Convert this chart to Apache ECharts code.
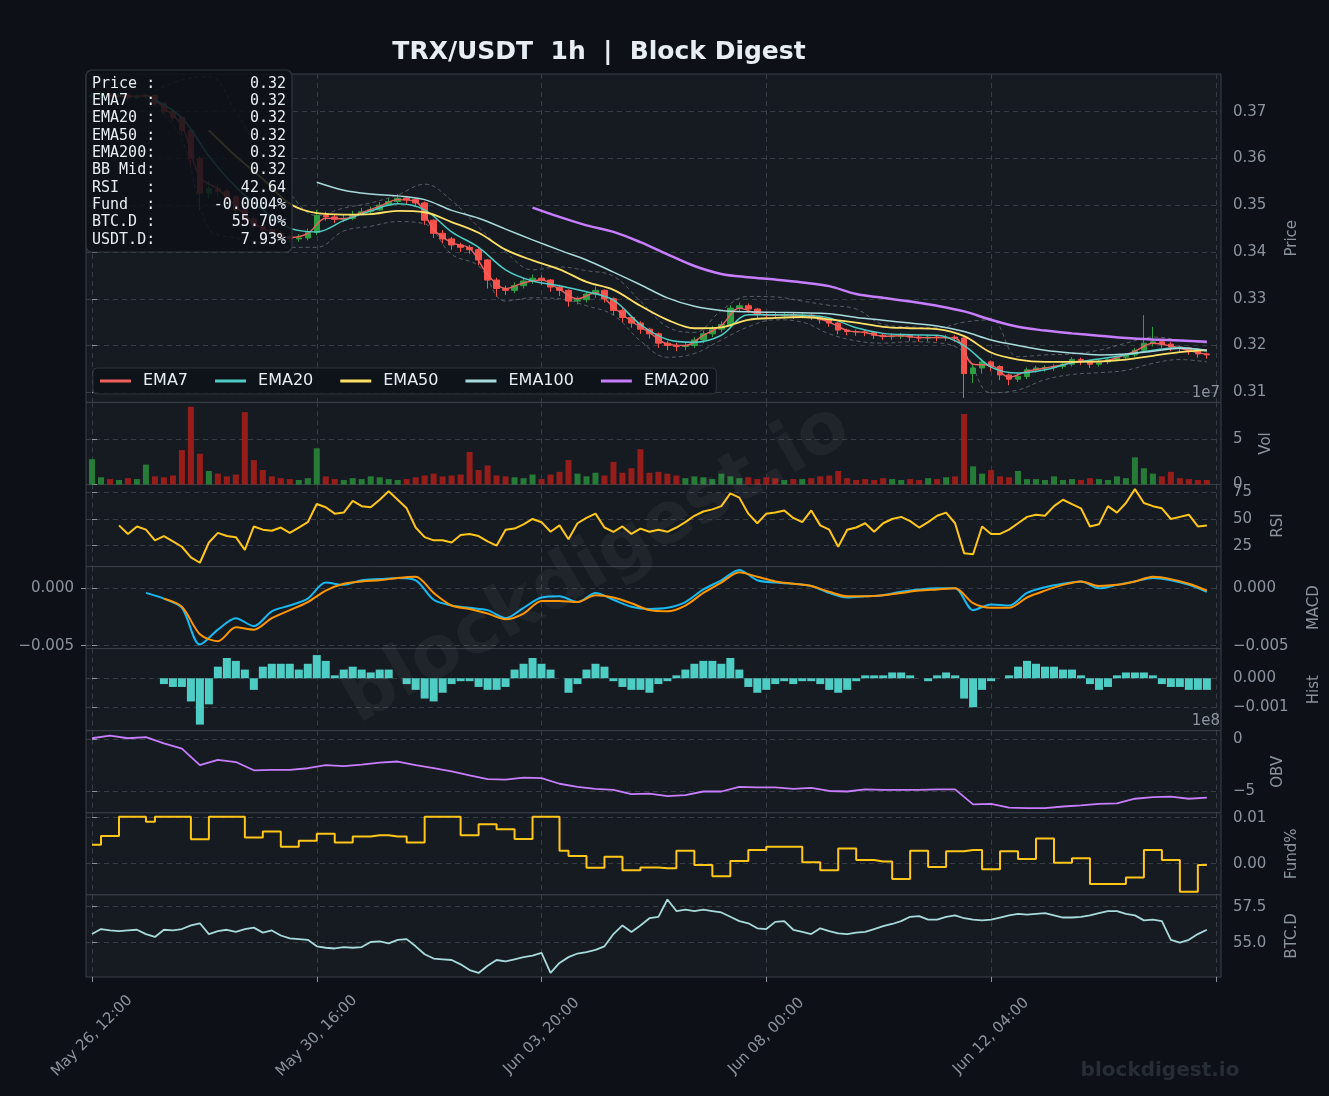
<!DOCTYPE html>
<html>
<head>
<meta charset="utf-8">
<title>TRX/USDT 1h | Block Digest</title>
<script src="https://cdn.jsdelivr.net/npm/echarts@6/dist/echarts.min.js"></script>
<style>
html, body { margin: 0; padding: 0; background: #0d1117; }
#chart { width: 1329px; height: 1096px; }
</style>
</head>
<body>
<div id="chart"></div>
<script>
// x = hours since May 26 12:00, candles sampled every 4h
const timeTickHours = [0, 100, 200, 300, 400, 500];
const timeTickLabels = ['May 26, 12:00', 'May 30, 16:00', 'Jun 03, 20:00', 'Jun 08, 00:00', 'Jun 12, 04:00', ''];

const firstOpen = 0.3732;
const closes = [
  .3735,.3738,.3733,.3736,.3730,.3733,.3735,.3718,.3700,.3688,
  .3660,.3600,.3526,.3535,.3530,.3518,.3490,.3470,.3455,.3448,
  .3440,.3432,.3428,.3430,.3442,.3478,.3475,.3470,.3472,.3480,
  .3486,.3490,.3500,.3508,.3515,.3512,.3505,.3468,.3440,.3428,
  .3415,.3410,.3405,.3383,.3340,.3322,.3318,.3328,.3338,.3344,
  .3340,.3325,.3318,.3295,.3298,.3310,.3318,.3300,.3275,.3260,
  .3248,.3235,.3225,.3205,.3200,.3198,.3200,.3212,.3225,.3235,
  .3245,.3280,.3285,.3278,.3266,.3265,.3264,.3266,.3264,.3265,
  .3262,.3255,.3248,.3233,.3230,.3229,.3228,.3222,.3219,.3220,
  .3222,.3218,.3216,.3218,.3217,.3218,.3216,.3140,.3152,.3165,
  .3155,.3137,.3128,.3134,.3148,.3152,.3153,.3155,.3160,.3170,
  .3168,.3160,.3165,.3170,.3175,.3180,.3190,.3205,.3208,.3203,
  .3197,.3195,.3188,.3182,.3180
];
const highs = [
  .3742,.3743,.3740,.3741,.3738,.3737,.3740,.3737,.3720,.3705,
  .3690,.3662,.3605,.3552,.3545,.3535,.3522,.3495,.3475,.3462,
  .3452,.3445,.3438,.3438,.3450,.3490,.3486,.3480,.3480,.3488,
  .3494,.3497,.3507,.3515,.3524,.3520,.3515,.3508,.3470,.3447,
  .3432,.3420,.3415,.3410,.3385,.3345,.3328,.3335,.3345,.3352,
  .3350,.3342,.3330,.3320,.3305,.3316,.3326,.3320,.3303,.3280,
  .3263,.3252,.3238,.3228,.3210,.3206,.3207,.3218,.3232,.3242,
  .3252,.3286,.3292,.3290,.3280,.3272,.3270,.3271,.3270,.3270,
  .3268,.3264,.3257,.3250,.3236,.3234,.3233,.3230,.3225,.3226,
  .3227,.3225,.3222,.3223,.3222,.3223,.3222,.3218,.3160,.3172,
  .3168,.3158,.3140,.3140,.3153,.3157,.3158,.3160,.3165,.3175,
  .3174,.3170,.3170,.3174,.3179,.3184,.3195,.3265,.3240,.3212,
  .3207,.3200,.3197,.3190,.3185
];
const lows = [
  .3728,.3730,.3727,.3729,.3724,.3726,.3729,.3712,.3694,.3680,
  .3650,.3585,.3490,.3515,.3520,.3505,.3480,.3460,.3446,.3440,
  .3432,.3425,.3420,.3422,.3425,.3436,.3467,.3462,.3464,.3468,
  .3478,.3482,.3488,.3498,.3502,.3503,.3497,.3458,.3430,.3418,
  .3405,.3400,.3396,.3372,.3322,.3305,.3308,.3312,.3322,.3332,
  .3330,.3315,.3306,.3283,.3288,.3292,.3302,.3292,.3265,.3250,
  .3238,.3225,.3215,.3195,.3190,.3188,.3190,.3195,.3205,.3218,
  .3228,.3238,.3272,.3270,.3258,.3258,.3257,.3258,.3257,.3258,
  .3255,.3247,.3240,.3224,.3222,.3221,.3220,.3214,.3212,.3212,
  .3214,.3210,.3208,.3209,.3209,.3210,.3208,.3088,.3120,.3140,
  .3145,.3126,.3115,.3122,.3128,.3142,.3144,.3146,.3150,.3155,
  .3158,.3152,.3155,.3160,.3166,.3170,.3175,.3185,.3198,.3195,
  .3188,.3186,.3180,.3174,.3172
];
// volume, units of 1e7
const volume = [
  2.8,0.8,0.6,0.5,0.7,0.6,2.2,0.9,0.8,1.0,
  3.8,8.6,3.4,1.5,1.2,0.9,1.1,8.0,2.7,1.6,
  0.9,0.7,0.6,0.5,0.7,4.0,0.9,0.6,0.5,0.7,
  0.6,0.9,0.8,0.6,0.5,0.6,0.8,1.0,1.2,0.9,
  1.0,1.1,3.6,1.6,2.1,1.0,0.9,0.8,0.7,1.1,
  0.6,1.1,1.4,2.7,1.2,0.9,1.3,1.0,2.5,1.3,
  1.8,3.9,1.3,1.4,1.2,1.0,0.7,0.9,0.8,0.6,
  1.2,0.9,0.7,0.8,0.6,0.8,0.7,0.5,0.6,0.6,
  0.7,0.9,1.0,1.5,0.7,0.5,0.6,0.5,0.7,0.6,
  0.5,0.6,0.5,0.7,0.6,0.8,0.9,7.8,2.0,1.2,
  1.6,0.9,0.8,1.5,0.6,0.6,0.5,0.9,0.5,0.6,
  0.5,0.7,0.6,0.5,0.9,0.7,3.0,1.8,1.2,0.9,
  1.4,0.7,0.6,0.5,0.5
];

// moving averages / bands: [start hour, step hours]
const ema7 = [
  .3734,.3733,.3734,.3708,.3670,.3560,.3535,.3498,.3462,.3443,
  .3431,.3440,.3472,.3471,.3484,.3498,.3512,.3508,.3448,.3420,
  .3408,.3352,.3322,.3334,.3340,.3320,.3300,.3313,.3282,.3252,
  .3228,.3203,.3200,.3222,.3243,.3280,.3268,.3265,.3265,.3262,
  .3250,.3232,.3228,.3220,.3221,.3217,.3217,.3216,.3160,.3158,
  .3132,.3145,.3152,.3159,.3167,.3165,.3174,.3188,.3205,.3199,
  .3189,.3181
];
const ema20 = [
  .3725,.3687,.3605,.3539,.3490,.3451,.3443,.3467,.3488,.3503,
  .3490,.3443,.3410,.3362,.3338,.3328,.3315,.3297,.3245,.3213,
  .3207,.3222,.3266,.3266,.3265,.3259,.3238,.3226,.3223,.3222,
  .3200,.3154,.3141,.3148,.3163,.3171,.3180,.3190,.3196,.3188
];
const ema50 = [
  .3660,.3605,.3556,.3503,.3483,.3480,.3481,.3488,.3485,.3464,
  .3441,.3405,.3382,.3363,.3336,.3319,.3285,.3255,.3237,.3239,
  .3255,.3259,.3261,.3256,.3249,.3240,.3237,.3235,.3220,.3185,
  .3170,.3165,.3165,.3166,.3170,.3178,.3186,.3190
];
const ema100 = [
  .3549,.3532,.3524,.3520,.3512,.3489,.3472,.3449,.3426,.3404,
  .3383,.3357,.3330,.3302,.3284,.3275,.3272,.3271,.3270,.3268,
  .3260,.3254,.3248,.3242,.3230,.3212,.3200,.3190,.3184,.3180,
  .3182,.3188,.3194,.3190
];
const ema200 = [
  .3495,.3475,.3457,.3443,.3421,.3395,.3370,.3353,.3346,.3341,
  .3335,.3327,.3310,.3302,.3294,.3285,.3273,.3255,.3240,.3232,
  .3226,.3221,.3216,.3213,.3211,.3208
];
const bbUpper = [
  .3745,.3768,.3775,.3700,.3600,.3525,.3478,.3494,.3505,.3522,
  .3545,.3510,.3453,.3400,.3362,.3368,.3360,.3348,.3295,.3240,
  .3228,.3275,.3305,.3304,.3295,.3286,.3278,.3245,.3240,.3238,
  .3250,.3255,.3176,.3180,.3182,.3190,.3205,.3218,.3212,.3205
];
const bbLower = [
  .3715,.3640,.3450,.3430,.3420,.3410,.3410,.3445,.3455,.3465,
  .3460,.3395,.3370,.3295,.3302,.3300,.3285,.3265,.3210,.3175,
  .3183,.3212,.3240,.3255,.3250,.3225,.3210,.3205,.3208,.3206,
  .3185,.3099,.3105,.3127,.3138,.3142,.3147,.3162,.3170,.3165
];

const rsi = [ // from h12, every 4h
  44,36,43,40,30,34,29,24,14,9,
  28,37,34,33,21,43,40,39,42,37,
  42,47,64,61,55,56,67,62,61,68,
  76,68,60,42,33,30,30,28,35,36,
  34,29,25,40,41,45,50,47,38,44,
  31,46,51,55,42,38,43,36,41,38,
  40,38,42,47,53,57,59,62,74,70,
  55,46,55,56,58,51,47,58,44,40,
  24,40,42,46,38,46,50,52,48,42,
  47,53,56,46,18,17,43,36,36,40,
  46,52,54,53,62,68,64,60,43,45,
  62,56,65,78,65,62,60,50,52,54,
  43,44
];
const macd = [ // from h24, every 8h
  -.0004,-.0009,-.0017,-.0049,-.0036,-.0026,-.0033,-.0020,-.0015,-.0009,
  .0005,.0003,.0007,.0008,.0009,.0007,-.0010,-.0015,-.0017,-.0019,
  -.0026,-.0017,-.0008,-.0007,-.0012,-.0004,-.0010,-.0016,-.0018,-.0017,
  -.0012,-.0001,.0007,.0016,.0007,.0005,.0004,.0002,-.0004,-.0008,
  -.0007,-.0006,-.0003,-.0001,.0000,.0000,-.0019,-.0014,-.0015,-.0004,
  .0001,.0004,.0006,.0000,.0003,.0006,.0009,.0007,.0003,-.0003
];
const macdSignal = [ // from h32, every 8h
  -.0009,-.0016,-.0040,-.0046,-.0034,-.0036,-.0026,-.0019,-.0012,
  -.0002,.0004,.0006,.0007,.0009,.0010,-.0004,-.0015,-.0018,-.0022,
  -.0027,-.0022,-.0011,-.0011,-.0012,-.0006,-.0008,-.0013,-.0019,-.0020,
  -.0015,-.0004,.0005,.0014,.0010,.0006,.0004,.0002,-.0003,-.0007,
  -.0007,-.0006,-.0004,-.0002,-.0001,.0000,-.0013,-.0017,-.0017,-.0008,
  -.0002,.0003,.0006,.0002,.0003,.0006,.0010,.0008,.0004,-.0002
];
const macdHist = [ // from h32, every 4h
  -.0002,-.0003,-.0003,-.0008,-.0016,-.0009,.0004,.0007,.0006,.0003,
  -.0004,.0004,.0005,.0005,.0005,.0003,.0005,.0008,.0006,.0001,
  .0003,.0004,.0003,.0002,.0003,.0003,.0000,-.0002,-.0004,-.0007,
  -.0008,-.0005,-.0002,-.0001,-.0001,-.0003,-.0004,-.0004,-.0003,.0003,
  .0005,.0007,.0005,.0003,.0000,-.0005,-.0002,.0003,.0005,.0004,
  -.0001,-.0003,-.0004,-.0004,-.0005,-.0002,-.0001,.0001,.0003,.0005,
  .0006,.0006,.0005,.0007,.0003,-.0003,-.0005,-.0004,-.0002,-.0001,
  -.0002,-.0001,-.0001,-.0002,-.0004,-.0005,-.0004,-.0001,.0001,.0001,
  .0001,.0002,.0002,.0001,.0000,-.0001,.0001,.0002,.0001,-.0007,
  -.0010,-.0004,-.0001,.0000,.0001,.0004,.0006,.0005,.0004,.0004,
  .0003,.0003,.0001,-.0002,-.0004,-.0003,.0001,.0002,.0002,.0002,
  .0001,-.0002,-.0003,-.0003,-.0004,-.0004,-.0004
];
const obv = [ // units of 1e8, from h0, every 8h
  0.1,0.35,0.1,0.2,-0.4,-0.9,-2.5,-2.0,-2.2,-3.0,
  -2.95,-2.95,-2.8,-2.5,-2.6,-2.45,-2.25,-2.15,-2.5,-2.8,
  -3.1,-3.5,-3.85,-3.9,-3.7,-3.75,-4.3,-4.6,-4.8,-4.9,
  -5.3,-5.25,-5.5,-5.4,-5.05,-5.05,-4.6,-4.65,-4.65,-4.8,
  -4.7,-5.0,-5.05,-4.85,-4.9,-4.9,-4.9,-4.85,-4.85,-6.3,
  -6.25,-6.6,-6.65,-6.65,-6.5,-6.4,-6.25,-6.2,-5.75,-5.6,
  -5.55,-5.75,-5.65
];
const funding = [ // from h0, every 4h
  .0041,.0060,.0060,.0102,.0102,.0102,.0091,.0102,.0102,.0102,
  .0102,.0053,.0053,.0102,.0102,.0102,.0102,.0057,.0057,.0070,
  .0070,.0037,.0037,.0050,.0050,.0065,.0065,.0046,.0046,.0059,
  .0059,.0062,.0062,.0059,.0059,.0046,.0046,.0102,.0102,.0102,
  .0102,.0062,.0062,.0086,.0086,.0075,.0075,.0054,.0054,.0102,
  .0102,.0102,.0028,.0017,.0017,-.0009,-.0009,.0015,.0015,-.0014,
  -.0014,-.0008,-.0008,-.0010,-.0010,.0028,.0028,-.0003,-.0003,-.0027,
  -.0027,.0006,.0006,.0030,.0030,.0037,.0037,.0037,.0037,.0003,
  .0003,-.0014,-.0014,.0033,.0033,.0008,.0008,.0005,.0005,-.0033,
  -.0033,.0028,.0028,-.0007,-.0007,.0027,.0027,.0030,.0030,-.0012,
  -.0012,.0027,.0027,.0010,.0010,.0055,.0055,.0002,.0002,.0012,
  .0012,-.0044,-.0044,-.0044,-.0044,-.0030,-.0030,.0030,.0030,.0008,
  .0008,-.0061,-.0061,-.0003,-.0003
];
const btcDom = [ // from h0, every 4h
  55.6,55.95,55.85,55.8,55.85,55.9,55.6,55.4,55.9,55.85,
  55.95,56.2,56.35,55.6,55.8,55.9,55.75,55.95,56.05,55.7,
  55.85,55.5,55.3,55.25,55.2,54.75,54.65,54.6,54.7,54.65,
  54.7,55.05,55.1,54.95,55.2,55.25,54.75,54.2,53.9,53.85,
  53.8,53.5,53.1,52.9,53.4,53.8,53.7,53.85,54.0,54.1,
  54.3,52.9,53.6,54.0,54.25,54.35,54.5,54.75,55.6,56.2,
  55.75,56.2,56.7,56.8,58.0,57.2,57.3,57.2,57.3,57.2,
  57.1,56.8,56.5,56.35,56.0,55.95,56.45,56.5,55.9,55.75,
  55.6,56.0,55.8,55.65,55.6,55.7,55.75,55.95,56.15,56.3,
  56.5,56.8,56.85,56.6,56.6,56.8,56.9,56.7,56.6,56.55,
  56.6,56.75,56.9,57.0,56.95,57.0,57.05,56.9,56.75,56.75,
  56.8,56.9,57.05,57.2,57.2,57.0,56.9,56.55,56.6,56.5,
  55.2,55.0,55.2,55.6,55.9
];

const priceTicks = [0.31, 0.32, 0.33, 0.34, 0.35, 0.36, 0.37];
const volTicks = [0, 5];
const rsiTicks = [25, 50, 75];
const macdTicks = [-0.005, 0];
const histTicks = [-0.001, 0];
const obvTicks = [-5, 0];
const fundTicks = [0, 0.01];
const btcTicks = [55, 57.5];

const infoLabels = ['Price :', 'EMA7  :', 'EMA20 :', 'EMA50 :', 'EMA200:', 'BB Mid:', 'RSI   :', 'Fund  :', 'BTC.D :', 'USDT.D:'];
const infoValues = ['0.32', '0.32', '0.32', '0.32', '0.32', '0.32', '42.64', '-0.0004%', '55.70%', '7.93%'];

// ---------------------------------------------------------------
const FONT = 'DejaVu Sans';
const MONO = 'DejaVu Sans Mono';
const GRAY = '#8b949e';
const GRIDLINE = '#363d46';
const BORDER = '#3a4049';
const X_MIN = -2.67, X_MAX = 502.3;

const fromStep = (start, step, vals) => vals.map((v, i) => [start + i * step, v]);
const minus = s => s.replace('-', '\u2212');

const candleData = closes.map((c, i) => {
    const o = i === 0 ? firstOpen : closes[i - 1];
    return [i * 4, o, c, lows[i], highs[i]];
});
const volData = volume.map((v, i) => {
    const o = i === 0 ? firstOpen : closes[i - 1];
    return {
        value: [i * 4, v],
        itemStyle: { color: closes[i] >= o ? 'rgba(40,134,58,0.9)' : 'rgba(165,30,25,0.9)' }
    };
});

// panels: price, vol, rsi, macd, hist, obv, funding, btc.d
const panels = [
    { top: 74,    h: 328.4, min: 0.30784,  max: 0.37806,  ticks: priceTicks, fmt: v => v.toFixed(2), name: 'Price', gap: 64 },
    { top: 402.4, h: 82.1,  min: 0,        max: 9.08,     ticks: volTicks,   fmt: v => String(v),   name: 'Vol',   gap: 38 },
    { top: 484.5, h: 82.1,  min: 5.4,      max: 82.3,     ticks: rsiTicks,   fmt: v => String(v),   name: 'RSI',   gap: 50 },
    { top: 566.6, h: 82.0,  min: -0.00525, max: 0.00189,  ticks: macdTicks,  fmt: v => v.toFixed(3), name: 'MACD', gap: 86 },
    { top: 648.6, h: 82.1,  min: -0.00181, max: 0.001024, ticks: histTicks,  fmt: v => v.toFixed(3), name: 'Hist', gap: 86 },
    { top: 730.7, h: 82.1,  min: -7.11,    max: 0.83,     ticks: obvTicks,   fmt: v => String(v),   name: 'OBV',   gap: 50 },
    { top: 812.8, h: 82.1,  min: -0.00678, max: 0.01107,  ticks: fundTicks,  fmt: v => v.toFixed(2), name: 'Fund%', gap: 64 },
    { top: 894.9, h: 82.1,  min: 52.62,    max: 58.32,    ticks: btcTicks,   fmt: v => v.toFixed(1), name: 'BTC.D', gap: 64 }
];

const dashed = { color: GRIDLINE, type: [5, 4], width: 1 };
const labelStyle = { color: GRAY, fontSize: 15, fontFamily: FONT };

const grids = panels.map(p => ({
    left: 86, right: 108, top: p.top, height: p.h,
    show: true, backgroundColor: '#161b22', borderColor: BORDER, borderWidth: 1,
    containLabel: false, outerBoundsMode: 'none'
}));

const xAxes = panels.map((p, i) => ({
    type: 'value', gridIndex: i, min: X_MIN, max: X_MAX,
    axisLine: { show: false },
    axisTick: { show: i === 7, customValues: timeTickHours, length: 5, lineStyle: { color: GRAY } },
    axisLabel: {
        show: i === 7, customValues: timeTickHours,
        formatter: v => timeTickLabels[timeTickHours.indexOf(v)] || '',
        rotate: 45, align: 'center', verticalAlign: 'middle', margin: 59, ...labelStyle
    },
    splitLine: { show: true, lineStyle: dashed }
}));

const yAxes = panels.map((p, i) => ({
    type: 'value', gridIndex: i, position: 'right', min: p.min, max: p.max,
    axisLine: { show: false },
    axisTick: { show: true, customValues: p.ticks, length: 5, lineStyle: { color: GRAY } },
    axisLabel: { customValues: p.ticks, formatter: v => minus(p.fmt(v)), margin: 12, ...labelStyle },
    splitLine: { show: true, lineStyle: dashed },
    name: p.name, nameLocation: 'middle', nameGap: p.gap, nameRotate: 90,
    nameTextStyle: { color: GRAY, fontSize: 15, fontFamily: FONT }
}));
// MACD also labelled on the left side
yAxes.push({
    type: 'value', gridIndex: 3, position: 'left', min: panels[3].min, max: panels[3].max,
    axisLine: { show: false },
    axisTick: { show: true, customValues: macdTicks, length: 5, lineStyle: { color: GRAY } },
    axisLabel: { customValues: macdTicks, formatter: v => minus(v.toFixed(3)), margin: 12, ...labelStyle },
    splitLine: { show: false }
});

const line = (name, xi, data, color, width, extra) => Object.assign({
    name, type: 'line', xAxisIndex: xi, yAxisIndex: xi, data,
    showSymbol: false, symbol: 'none', silent: true,
    lineStyle: { color, width }, itemStyle: { color }, z: 4
}, extra || {});

const emaDefs = [
    { name: 'EMA7',   start: 8,   step: 8,  vals: ema7,   color: '#f0605d', width: 1.4 },
    { name: 'EMA20',  start: 28,  step: 12, vals: ema20,  color: '#4ecdc4', width: 1.5 },
    { name: 'EMA50',  start: 52,  step: 12, vals: ema50,  color: '#ffe066', width: 1.8 },
    { name: 'EMA100', start: 100, step: 12, vals: ema100, color: '#a8dadc', width: 1.5 },
    { name: 'EMA200', start: 196, step: 12, vals: ema200, color: '#c77dff', width: 2.5 }
];

const bbStyle = { color: 'rgba(139,148,158,0.55)', width: 1, type: [4, 3] };

const series = [
    line('BB Upper', 0, fromStep(28, 12, bbUpper), bbStyle.color, 1, { smooth: 0.4, z: 2, lineStyle: bbStyle }),
    line('BB Lower', 0, fromStep(28, 12, bbLower), bbStyle.color, 1, { smooth: 0.4, z: 2, lineStyle: bbStyle }),
    {
        name: 'TRX/USDT', type: 'candlestick', xAxisIndex: 0, yAxisIndex: 0, data: candleData,
        barWidth: 6, z: 3, silent: true,
        itemStyle: { color: '#2ea043', color0: '#f85149', borderColor: '#2ea043', borderColor0: '#f85149', borderWidth: 1 }
    },
    ...emaDefs.map(e => line(e.name, 0, fromStep(e.start, e.step, e.vals), e.color, e.width, { smooth: 0.35 })),
    { name: 'Vol', type: 'bar', xAxisIndex: 1, yAxisIndex: 1, data: volData, barWidth: 6, silent: true },
    line('RSI', 2, fromStep(12, 4, rsi), '#ffc61a', 2),
    line('MACD', 3, fromStep(24, 8, macd), '#1ab8f0', 2, { smooth: 0.3 }),
    line('Signal', 3, fromStep(32, 8, macdSignal), '#ff9500', 2, { smooth: 0.3 }),
    { name: 'Hist', type: 'bar', xAxisIndex: 4, yAxisIndex: 4, data: fromStep(32, 4, macdHist), barWidth: 8, silent: true, itemStyle: { color: '#4ecdc4' } },
    line('OBV', 5, fromStep(0, 8, obv), '#c77dff', 1.8),
    line('Fund%', 6, fromStep(0, 4, funding), '#ffc61a', 2, { step: 'end' }),
    line('BTC.D', 7, fromStep(0, 4, btcDom), '#a8dadc', 1.8)
];

const infoTexts = [];
infoLabels.forEach((lab, i) => {
    const y = 84 + i * 17.3;
    infoTexts.push({ type: 'text', z: 101, style: { text: lab, x: 92, y, fill: '#e6edf3', font: `15px '${MONO}'`, textAlign: 'left', textVerticalAlign: 'middle' } });
    infoTexts.push({ type: 'text', z: 101, style: { text: infoValues[i], x: 286, y, fill: '#e6edf3', font: `15px '${MONO}'`, textAlign: 'right', textVerticalAlign: 'middle' } });
});

const graphic = [
    { type: 'text', z: 100, style: { text: 'TRX/USDT  1h  |  Block Digest', x: 599, y: 52, fill: '#e6edf3', font: `bold 25px '${FONT}'`, textAlign: 'center', textVerticalAlign: 'middle' } },
    { type: 'text', z: 90, x: 597, y: 565, rotation: Math.PI / 6, style: { text: 'blockdigest.io', x: 0, y: 0, fill: 'rgba(255,255,255,0.045)', font: `bold 72px '${FONT}'`, textAlign: 'center', textVerticalAlign: 'middle' } },
    { type: 'text', z: 90, style: { text: 'blockdigest.io', x: 1160, y: 1071, fill: '#272d35', font: `bold 20px '${FONT}'`, textAlign: 'center', textVerticalAlign: 'middle' } },
    { type: 'text', z: 90, style: { text: '1e7', x: 1220, y: 393, fill: GRAY, font: `15px '${FONT}'`, textAlign: 'right', textVerticalAlign: 'middle' } },
    { type: 'text', z: 90, style: { text: '1e8', x: 1220, y: 721, fill: GRAY, font: `15px '${FONT}'`, textAlign: 'right', textVerticalAlign: 'middle' } },
    { type: 'rect', z: 100, shape: { x: 86, y: 70, width: 206, height: 182, r: 6 }, style: { fill: 'rgba(13,17,23,0.86)', stroke: '#30363d', lineWidth: 1.2 } },
    ...infoTexts
];

const chart = echarts.init(document.getElementById('chart'), null, { renderer: 'canvas' });
chart.setOption({
    backgroundColor: '#0d1117',
    animation: false,
    textStyle: { fontFamily: FONT },
    grid: grids,
    xAxis: xAxes,
    yAxis: yAxes,
    legend: {
        data: emaDefs.map(e => e.name), selectedMode: false,
        left: 93, top: 368, icon: 'rect', itemWidth: 31, itemHeight: 3, itemGap: 27,
        padding: [5, 7], backgroundColor: 'rgba(13,17,23,0.85)', borderColor: '#30363d', borderWidth: 1, borderRadius: 4,
        textStyle: { color: '#e6edf3', fontSize: 16, fontFamily: FONT, padding: [0, 0, 0, 7] }
    },
    graphic,
    series
});
</script>
</body>
</html>
